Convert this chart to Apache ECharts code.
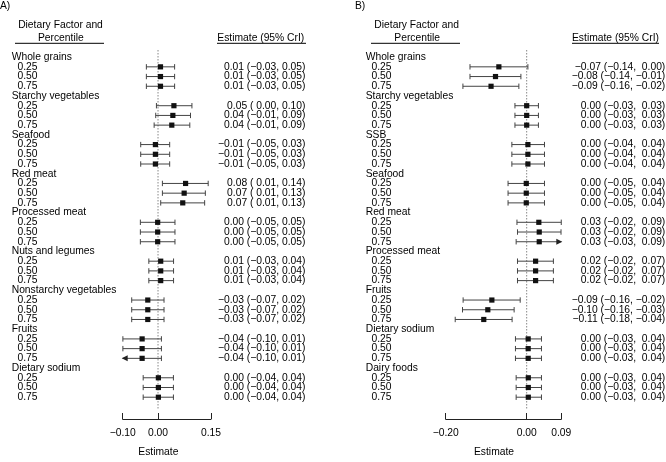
<!DOCTYPE html>
<html><head><meta charset="utf-8">
<script src="https://cdn.jsdelivr.net/npm/echarts@6/dist/echarts.min.js"></script>
<style>html,body{margin:0;padding:0;background:#fff}#c{width:666px;height:462px}</style>
</head><body><div id="c"></div>
<script>
// ---------- data ----------
const percentiles = ['0.25', '0.50', '0.75'];

const groupsA = ['Whole grains', 'Starchy vegetables', 'Seafood', 'Red meat', 'Processed meat',
  'Nuts and legumes', 'Nonstarchy vegetables', 'Fruits', 'Dietary sodium'];
const estA  = [0.007, 0.007, 0.007,  0.045, 0.042, 0.039,  -0.0074, -0.0074, -0.0074,  0.078, 0.074, 0.070,
  -0.001, -0.001, -0.001,  0.0076, 0.0076, 0.0076,  -0.029, -0.029, -0.029,  -0.045, -0.045, -0.045,  0.001, 0.001, 0.001];
const lowA  = [-0.033, -0.033, -0.033,  -0.0045, -0.0065, -0.011,  -0.049, -0.049, -0.049,  0.0124, 0.0124, 0.0076,
  -0.050, -0.050, -0.050,  -0.026, -0.026, -0.026,  -0.0745, -0.0745, -0.0745,  -0.0995, -0.0995, -0.104,  -0.042, -0.042, -0.042];
const highA = [0.047, 0.047, 0.047,  0.096, 0.092, 0.090,  0.033, 0.033, 0.033,  0.142, 0.134, 0.132,
  0.048, 0.048, 0.048,  0.044, 0.044, 0.044,  0.017, 0.017, 0.017,  0.0096, 0.0096, 0.0096,  0.0436, 0.0436, 0.0436];
const ciTextA = [
  '0.01 (\u22120.03, 0.05)', '0.01 (\u22120.03, 0.05)', '0.01 (\u22120.03, 0.05)',
  '0.05 ( 0.00, 0.10)', '0.04 (\u22120.01, 0.09)', '0.04 (\u22120.01, 0.09)',
  '\u22120.01 (\u22120.05, 0.03)', '\u22120.01 (\u22120.05, 0.03)', '\u22120.01 (\u22120.05, 0.03)',
  '0.08 ( 0.01, 0.14)', '0.07 ( 0.01, 0.13)', '0.07 ( 0.01, 0.13)',
  '0.00 (\u22120.05, 0.05)', '0.00 (\u22120.05, 0.05)', '0.00 (\u22120.05, 0.05)',
  '0.01 (\u22120.03, 0.04)', '0.01 (\u22120.03, 0.04)', '0.01 (\u22120.03, 0.04)',
  '\u22120.03 (\u22120.07, 0.02)', '\u22120.03 (\u22120.07, 0.02)', '\u22120.03 (\u22120.07, 0.02)',
  '\u22120.04 (\u22120.10, 0.01)', '\u22120.04 (\u22120.10, 0.01)', '\u22120.04 (\u22120.10, 0.01)',
  '0.00 (\u22120.04, 0.04)', '0.00 (\u22120.04, 0.04)', '0.00 (\u22120.04, 0.04)'
];
const xTicksA = [-0.10, 0.00, 0.15];

const groupsB = ['Whole grains', 'Starchy vegetables', 'SSB', 'Seafood', 'Red meat', 'Processed meat',
  'Fruits', 'Dietary sodium', 'Dairy foods'];
const estB  = [-0.0687, -0.077, -0.088,  0.000, 0.000, 0.000,  0.003, 0.003, 0.003,  -0.001, -0.001, -0.001,
  0.030, 0.031, 0.031,  0.022, 0.022, 0.022,  -0.086, -0.096, -0.106,  0.0037, 0.0037, 0.0037,  0.004, 0.004, 0.004];
const lowB  = [-0.140, -0.140, -0.1575,  -0.029, -0.029, -0.029,  -0.0366, -0.0366, -0.0366,  -0.046, -0.046, -0.046,
  -0.024, -0.0227, -0.026,  -0.0227, -0.0227, -0.0227,  -0.157, -0.1585, -0.1765,  -0.0277, -0.0277, -0.0277,  -0.026, -0.026, -0.026];
const highB = [0.003, -0.0143, -0.0193,  0.029, 0.029, 0.029,  0.044, 0.044, 0.044,  0.044, 0.044, 0.044,
  0.0854, 0.0848, 0.090,  0.066, 0.066, 0.066,  -0.016, -0.031, -0.036,  0.0365, 0.0365, 0.0365,  0.0365, 0.0365, 0.0365];
const ciTextB = [
  '\u22120.07 (\u22120.14,  0.00)', '\u22120.08 (\u22120.14, \u22120.01)', '\u22120.09 (\u22120.16, \u22120.02)',
  '0.00 (\u22120.03,  0.03)', '0.00 (\u22120.03,  0.03)', '0.00 (\u22120.03,  0.03)',
  '0.00 (\u22120.04,  0.04)', '0.00 (\u22120.04,  0.04)', '0.00 (\u22120.04,  0.04)',
  '0.00 (\u22120.05,  0.04)', '0.00 (\u22120.05,  0.04)', '0.00 (\u22120.05,  0.04)',
  '0.03 (\u22120.02,  0.09)', '0.03 (\u22120.02,  0.09)', '0.03 (\u22120.03,  0.09)',
  '0.02 (\u22120.02,  0.07)', '0.02 (\u22120.02,  0.07)', '0.02 (\u22120.02,  0.07)',
  '\u22120.09 (\u22120.16, \u22120.02)', '\u22120.10 (\u22120.16, \u22120.03)', '\u22120.11 (\u22120.18, \u22120.04)',
  '0.00 (\u22120.03,  0.04)', '0.00 (\u22120.03,  0.04)', '0.00 (\u22120.03,  0.04)',
  '0.00 (\u22120.03,  0.04)', '0.00 (\u22120.03,  0.04)', '0.00 (\u22120.03,  0.04)'
];
const xTicksB = [-0.20, 0.00, 0.0855];
const refLine = [0];

// ---------- helpers ----------
const FONT = 'Liberation Sans, Arial, Helvetica, sans-serif';
const FS = 10.3;
const minus = s => String(s).replace(/-/g, '\u2212');

function rowLabels(groups) {
  const out = [];
  groups.forEach(g => { out.push(g); percentiles.forEach(p => out.push('  ' + p)); });
  return out;
}
function rowText(texts) {
  const out = [];
  for (let g = 0; g < texts.length / 3; g++) { out.push(''); for (let p = 0; p < 3; p++) out.push(texts[g * 3 + p]); }
  return out;
}
function seriesData(est, lo, hi) {
  return est.map((e, i) => [e, lo[i], hi[i], Math.floor(i / 3) * 4 + 1 + (i % 3)]);
}

function renderForest(params, api) {
  const cs = params.coordSys;
  const xmin = cs.x, xmax = cs.x + cs.width;
  const row = api.value(3);
  const y = api.coord([0, row])[1];
  const xe = api.coord([api.value(0), row])[0];
  const xl = api.coord([api.value(1), row])[0];
  const xh = api.coord([api.value(2), row])[0];
  const st = {stroke: '#444', lineWidth: 1};
  const c = [];
  const a = Math.max(xl, xmin), b = Math.min(xh, xmax);
  c.push({type: 'line', shape: {x1: a, y1: y, x2: b, y2: y}, style: st});
  if (xl < xmin - 0.5) c.push({type: 'polygon', shape: {points: [[xmin - 1, y], [xmin + 5, y - 3], [xmin + 5, y + 3]]}, style: {fill: '#222'}});
  else c.push({type: 'line', shape: {x1: xl, y1: y - 2.7, x2: xl, y2: y + 2.7}, style: st});
  if (xh > xmax + 0.5) c.push({type: 'polygon', shape: {points: [[xmax + 1, y], [xmax - 5, y - 3], [xmax - 5, y + 3]]}, style: {fill: '#222'}});
  else c.push({type: 'line', shape: {x1: xh, y1: y - 2.7, x2: xh, y2: y + 2.7}, style: st});
  c.push({type: 'rect', shape: {x: xe - 2.6, y: y - 2.6, width: 5.2, height: 5.2}, style: {fill: '#111'}});
  return {type: 'group', children: c};
}
function renderRef(params, api) {
  const cs = params.coordSys;
  const x = api.coord([api.value(0), 0])[0];
  return {type: 'line', shape: {x1: x, y1: cs.y, x2: x, y2: cs.y + cs.height},
    style: {stroke: '#888', lineWidth: 1, lineDash: [1.5, 1.5]}};
}
// text columns placed on each row through the y scale
function textSeries(xAxisIndex, yAxisIndex, texts, dx, align) {
  return {type: 'custom', xAxisIndex, yAxisIndex, silent: true, clip: false, z: 3,
    data: texts.map((t, r) => [0, r]),
    encode: {x: 0, y: 1},
    renderItem: (params, api) => {
      const cs = params.coordSys;
      const r = api.value(1);
      const y = api.coord([0, r])[1];
      const x = align === 'left' ? cs.x + dx : cs.x + cs.width + dx;
      return {type: 'text', x, y, style: {text: texts[r], fill: '#000', fontSize: FS, fontFamily: FONT,
        align, verticalAlign: 'middle'}};
    }};
}

const Y_MIN = -0.733, Y_MAX = 36.316;

function makeYAxis(gridIndex) {
  return {type: 'value', gridIndex, inverse: true, min: Y_MIN, max: Y_MAX,
    axisLine: {show: false, onZero: false}, axisTick: {show: false}, splitLine: {show: false},
    axisLabel: {show: false}};
}
function makeXAxis(gridIndex, min, max, ticks, namePad) {
  return {type: 'value', gridIndex, min, max, position: 'bottom', offset: 9,
    axisLine: {show: true, onZero: false, lineStyle: {color: '#222', width: 1}},
    axisTick: {show: true, inside: true, length: 6, customValues: ticks, lineStyle: {color: '#222'}},
    axisLabel: {customValues: ticks, formatter: v => minus(Number(v).toFixed(2)), margin: 9,
      showMinLabel: true, showMaxLabel: true,
      color: '#000', fontSize: FS, fontFamily: FONT},
    splitLine: {show: false},
    name: 'Estimate', nameLocation: 'middle', nameGap: 28,
    nameTextStyle: {color: '#000', fontSize: FS, fontFamily: FONT, padding: namePad}};
}

function txt(x, y, text, align, size) {
  return {type: 'text', x, y, style: {text, fill: '#000', fontSize: size || FS, fontFamily: FONT,
    align: align || 'left', verticalAlign: 'middle'}};
}
function uline(x1, x2, y) {
  return {type: 'line', shape: {x1, y1: y, x2, y2: y}, style: {stroke: '#000', lineWidth: 1}};
}

const chart = echarts.init(document.getElementById('c'), null, {renderer: 'canvas'});
chart.setOption({
  animation: false,
  backgroundColor: '#fff',
  grid: [
    {left: 122.7, top: 50, width: 88.3, height: 369},
    {left: 445.7, top: 50, width: 115.6, height: 369}
  ],
  xAxis: [
    makeXAxis(0, -0.10, 0.15, xTicksA, [0, 17, 0, 0]),
    makeXAxis(1, -0.20, 0.0855, xTicksB, [0, 19, 0, 0])
  ],
  yAxis: [makeYAxis(0), makeYAxis(1)],
  series: [
    {type: 'custom', xAxisIndex: 0, yAxisIndex: 0, data: refLine.map(v => [v]), renderItem: renderRef, silent: true, z: 1},
    {type: 'custom', xAxisIndex: 0, yAxisIndex: 0, data: seriesData(estA, lowA, highA),
      encode: {x: [0, 1, 2], y: 3}, renderItem: renderForest, z: 2},
    textSeries(0, 0, rowLabels(groupsA), -111, 'left'),
    textSeries(0, 0, rowText(ciTextA), 94.5, 'right'),
    {type: 'custom', xAxisIndex: 1, yAxisIndex: 1, data: refLine.map(v => [v]), renderItem: renderRef, silent: true, z: 1},
    {type: 'custom', xAxisIndex: 1, yAxisIndex: 1, data: seriesData(estB, lowB, highB),
      encode: {x: [0, 1, 2], y: 3}, renderItem: renderForest, z: 2},
    textSeries(1, 1, rowLabels(groupsB), -80, 'left'),
    textSeries(1, 1, rowText(ciTextB), 104, 'right')
  ],
  graphic: [
    txt(0, 6, 'A)'), txt(355, 6, 'B)'),
    txt(60.5, 25, 'Dietary Factor and', 'center'), txt(60.8, 37.7, 'Percentile', 'center'), uline(15, 104, 43.3),
    txt(217.3, 37.7, 'Estimate (95% CrI)'), uline(217, 306, 43.3),
    txt(416.7, 25, 'Dietary Factor and', 'center'), txt(417.2, 37.7, 'Percentile', 'center'), uline(371, 460, 43.3),
    txt(572, 37.7, 'Estimate (95% CrI)', 'left', 10.3), uline(572, 659, 43.3)
  ]
});
</script>
</body></html>
